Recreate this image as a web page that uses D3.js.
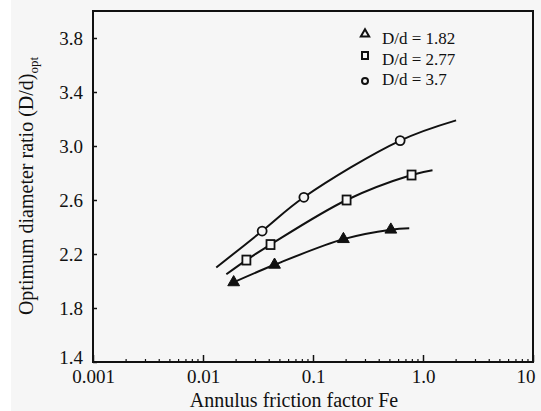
<!DOCTYPE html>
<html>
<head>
<meta charset="utf-8">
<script src="https://cdn.jsdelivr.net/npm/d3@7"></script>
<style>
  body { margin: 0; background: #fff; }
  svg { display: block; }
  text { font-family: "Liberation Serif", "DejaVu Serif", serif; fill: #111; }
</style>
</head>
<body>
<div id="chart"></div>
<script>
// optimum diameter ratio vs annulus friction factor (log x axis)

const xTicks = [0.001, 0.01, 0.1, 1, 10];
const xTickLabels = ["0.001", "0.01", "0.1", "1.0", "10"];
const yTicks = [1.4, 1.8, 2.2, 2.6, 3.0, 3.4, 3.8];

// measured points
const fe182 = [0.019, 0.0447, 0.189, 0.51];
const dd182 = [1.99, 2.12, 2.31, 2.38];
const fe277 = [0.0248, 0.0411, 0.202, 0.787];
const dd277 = [2.155, 2.27, 2.60, 2.785];
const fe37 = [0.0345, 0.0826, 0.62];
const dd37 = [2.37, 2.62, 3.04];

// fitted curves as drawn
const curve182 = [[0.0178, 1.98], [0.0447, 2.12], [0.189, 2.31], [0.51, 2.38], [0.75, 2.39]];
const curve277 = [[0.0163, 2.05], [0.0248, 2.155], [0.0411, 2.27], [0.202, 2.60], [0.787, 2.785], [1.22, 2.82]];
const curve37 = [[0.0132, 2.10], [0.0345, 2.37], [0.0826, 2.62], [0.62, 3.04], [2.0, 3.19]];

const legendLabels = ["D/d = 1.82", "D/d = 2.77", "D/d = 3.7"];

const W = 541, H = 411;
const margin = { top: 11, right: 8, bottom: 49, left: 93 };
const width = W - margin.left - margin.right;
const height = H - margin.top - margin.bottom;

const svg = d3.select("#chart").append("svg")
  .attr("width", W)
  .attr("height", H);

svg.append("rect")
  .attr("x", 11).attr("y", 0)
  .attr("width", W - 11).attr("height", H)
  .attr("fill", "#f6f6f6");

const chart = svg.append("g")
  .attr("transform", `translate(${margin.left}, ${margin.top})`);

const x = d3.scaleLog().domain([0.001, 10]).range([0, width]);
const y = d3.scaleLinear().domain([1.4, 4.0]).range([height, 0]);

// frame
chart.append("rect")
  .attr("width", width)
  .attr("height", height)
  .attr("fill", "none")
  .attr("stroke", "#111")
  .attr("stroke-width", 2);

// x axis: inward ticks, minor ones at 2..9
const minor = [];
for (let p = -3; p < 1; p++) {
  for (let k = 2; k <= 9; k++) minor.push(k * Math.pow(10, p));
}
chart.append("g")
  .selectAll("line")
  .data(minor)
  .enter().append("line")
  .attr("x1", d => x(d)).attr("x2", d => x(d))
  .attr("y1", height).attr("y2", height - 3)
  .attr("stroke", "#111").attr("stroke-width", 1.2);

const xAxis = chart.append("g")
  .attr("transform", `translate(0, ${height})`)
  .call(d3.axisBottom(x).tickValues(xTicks)
    .tickFormat((d, i) => xTickLabels[i])
    .tickSizeInner(-7).tickSizeOuter(0).tickPadding(8));
xAxis.select(".domain").remove();
xAxis.selectAll("line").attr("stroke", "#111").attr("stroke-width", 1.5);
xAxis.selectAll("text")
  .attr("font-size", 19)
  .attr("fill", "#111")
  .attr("font-family", "Liberation Serif");
// last label sits against the right edge
xAxis.selectAll("text").filter(d => d === 10)
  .attr("text-anchor", "end")
  .attr("dx", 2);

const yAxis = chart.append("g")
  .call(d3.axisLeft(y).tickValues(yTicks)
    .tickFormat(d3.format(".1f"))
    .tickSizeInner(-4).tickSizeOuter(0).tickPadding(10));
yAxis.select(".domain").remove();
yAxis.selectAll("line").attr("stroke", "#111").attr("stroke-width", 1.5);
yAxis.selectAll("text")
  .attr("font-size", 19)
  .attr("fill", "#111")
  .attr("font-family", "Liberation Serif");
// keep the bottom label clear of "0.001"
yAxis.selectAll("text").filter(d => d === 1.4)
  .attr("dy", "0.1em");

// axis titles
svg.append("text")
  .attr("x", 294)
  .attr("y", 407)
  .attr("text-anchor", "middle")
  .attr("font-size", 20)
  .text("Annulus friction factor Fe");

const yTitle = svg.append("text")
  .attr("transform", "translate(33, 186) rotate(-90)")
  .attr("text-anchor", "middle")
  .attr("font-size", 20);
yTitle.append("tspan").text("Optimum diameter ratio (D/d)");
yTitle.append("tspan").attr("font-size", 13).attr("dy", 5).text("opt");

// curves
const line = d3.line()
  .x(d => x(d[0]))
  .y(d => y(d[1]))
  .curve(d3.curveCatmullRom.alpha(0.5));

[curve182, curve277, curve37].forEach(c => {
  chart.append("path")
    .datum(c)
    .attr("d", line)
    .attr("fill", "none")
    .attr("stroke", "#111")
    .attr("stroke-width", 2);
});

// markers
const tri = d3.symbol().type(d3.symbolTriangle).size(60);
chart.append("g").selectAll("path")
  .data(fe182.map((f, i) => [f, dd182[i]]))
  .enter().append("path")
  .attr("d", tri)
  .attr("transform", d => `translate(${x(d[0])}, ${y(d[1])})`)
  .attr("fill", "#111")
  .attr("stroke", "#111").attr("stroke-width", 1);

chart.append("g").selectAll("rect")
  .data(fe277.map((f, i) => [f, dd277[i]]))
  .enter().append("rect")
  .attr("x", d => x(d[0]) - 4)
  .attr("y", d => y(d[1]) - 4.5)
  .attr("width", 8).attr("height", 9)
  .attr("fill", "#f6f6f6")
  .attr("stroke", "#111").attr("stroke-width", 1.8);

chart.append("g").selectAll("circle")
  .data(fe37.map((f, i) => [f, dd37[i]]))
  .enter().append("circle")
  .attr("cx", d => x(d[0]))
  .attr("cy", d => y(d[1]))
  .attr("r", 4.5)
  .attr("fill", "#f6f6f6")
  .attr("stroke", "#111").attr("stroke-width", 1.8);

// legend
const legend = svg.append("g");
const rowY = [44, 65, 85];
legend.append("path")
  .attr("d", d3.symbol().type(d3.symbolTriangle).size(30))
  .attr("transform", `translate(365, ${rowY[0] - 10})`)
  .attr("fill", "none").attr("stroke", "#111").attr("stroke-width", 2);
legend.append("rect")
  .attr("x", 362).attr("y", rowY[1] - 13)
  .attr("width", 6).attr("height", 7)
  .attr("fill", "none").attr("stroke", "#111").attr("stroke-width", 2);
legend.append("circle")
  .attr("cx", 365).attr("cy", rowY[2] - 4)
  .attr("r", 3)
  .attr("fill", "none").attr("stroke", "#111").attr("stroke-width", 2);
legend.selectAll("text")
  .data(legendLabels)
  .enter().append("text")
  .attr("x", 382)
  .attr("y", (d, i) => rowY[i])
  .attr("font-size", 17)
  .text(d => d);
</script>
</body>
</html>
